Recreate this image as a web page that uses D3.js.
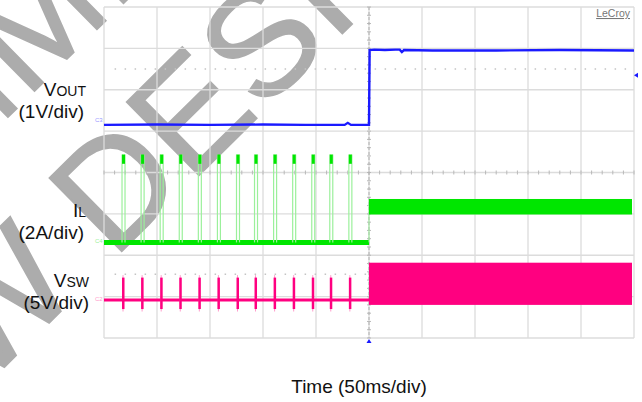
<!DOCTYPE html>
<html lang="en">
<head>
<meta charset="utf-8">
<script src="https://d3js.org/d3.v7.min.js"></script>
<style>
    body { margin: 0; background: #fff; }
    text { font-family: "Liberation Sans", Arial, sans-serif; }
</style>
</head>
<body>
<svg></svg>
<script>
    const width = 642;
    const height = 402;

    // 50 ms/div, trigger in the middle of the screen
    const timeDomain = [-250, 250];
    const divDomain = [-4, 4];

    // switching bursts before the converter starts (ms)
    const burstTimes = [-233, -215, -197, -179, -161, -143, -125, -108, -90, -72, -54, -37, -19];

    // VOUT trace, 1 V/div
    const voutTime  = [-250, -200, -150, -100, -60, -23, -20, -17, 0, 0.6, 5, 15, 25, 29, 31, 33, 60, 120, 180, 250];
    const voutValue = [-0.1, -0.09, -0.1, -0.09, -0.1, -0.1, -0.05, -0.1, -0.1, 1.71, 1.72, 1.71, 1.72, 1.72, 1.66, 1.71, 1.7, 1.7, 1.71, 1.7];

    // IL, 2 A/div
    const ilBase = 0;
    const ilPeak = [3.8, 4.25];
    const ilBand = [1.35, 2.1];

    // VSW, 5 V/div
    const vswBase = 0;
    const vswSpike = [-1.1, 2.7];
    const vswBand = [-0.6, 4.5];

    // channel ground markers (div from centre)
    const chNames = ['C3', 'C4', 'C2'];
    const chOffset = [1.25, -1.69, -3.08];
    const chScale = [1, 2, 5];
    const chColor = ['#1a1aff', '#00e600', '#ff0080'];
    const chLight = ['#9a9aff', '#9bf09b', '#ff9ccc'];

    const svg = d3.select('svg').attr('width', width).attr('height', height);

    const x = d3.scaleLinear().domain(timeDomain).range([104, 634]);
    const y = d3.scaleLinear().domain(divDomain).range([338, 7]);
    const yCh = (i, v) => y(chOffset[i] + v / chScale[i]);

    // watermark, under the graticule
    const wm = svg.append('g')
        .attr('fill', '#acacac').attr('stroke', '#acacac').attr('stroke-width', 1.5)
        .attr('font-size', 150);
    wm.append('text')
        .attr('transform', 'translate(113,260) rotate(-44.6)')
        .text('DESIGNS');
    wm.append('text')
        .attr('transform', 'translate(113,260) rotate(-44.6)')
        .attr('x', -42)
        .attr('text-anchor', 'end')
        .text('NEW');
    wm.append('text')
        .attr('transform', 'translate(-10,135) rotate(-44.6)')
        .attr('x', -508)
        .text('RECOMMENDED FOR');

    // graticule
    const grid = svg.append('g').attr('stroke', '#dcdcdc').attr('stroke-width', 1.3);
    grid.selectAll('line.v').data(x.ticks(10)).enter().append('line')
        .attr('x1', d => x(d)).attr('x2', d => x(d))
        .attr('y1', y(4)).attr('y2', y(-4));
    grid.selectAll('line.h').data(y.ticks(8)).enter().append('line')
        .attr('x1', x(-250)).attr('x2', x(250))
        .attr('y1', d => y(d)).attr('y2', d => y(d));

    // minor ticks on centre lines
    const minor = svg.append('g').attr('stroke', '#b8b8b8').attr('stroke-width', 1);
    minor.selectAll('line.mx').data(d3.range(-250, 251, 10)).enter().append('line')
        .attr('x1', d => x(d)).attr('x2', d => x(d))
        .attr('y1', y(0) - 2).attr('y2', y(0) + 2);
    minor.selectAll('line.my').data(d3.range(-4, 4.01, 0.2)).enter().append('line')
        .attr('x1', x(0) - 2).attr('x2', x(0) + 2)
        .attr('y1', d => y(d)).attr('y2', d => y(d));
    svg.append('line')
        .attr('x1', x(0)).attr('x2', x(0)).attr('y1', y(4)).attr('y2', y(-4))
        .attr('stroke', '#b0b0b0').attr('stroke-dasharray', '3 2');

    // dotted reference levels
    svg.selectAll('line.ref').data([2.5, -2.46]).enter().append('line')
        .attr('x1', x(-240)).attr('x2', x(248))
        .attr('y1', d => y(d)).attr('y2', d => y(d))
        .attr('stroke', '#c4c4c4').attr('stroke-width', 1.5)
        .attr('stroke-dasharray', '1.5 8.5');

    // VSW
    const vsw = svg.append('g');
    vsw.append('line')
        .attr('x1', x(-250)).attr('x2', x(0))
        .attr('y1', yCh(2, vswBase)).attr('y2', yCh(2, vswBase))
        .attr('stroke', chColor[2]).attr('stroke-width', 3);
    vsw.selectAll('line.thin').data(burstTimes).enter().append('line')
        .attr('x1', d => x(d) + 1).attr('x2', d => x(d) + 1)
        .attr('y1', yCh(2, vswSpike[0] - 0.3)).attr('y2', yCh(2, vswSpike[1] + 0.3))
        .attr('stroke', chLight[2]).attr('stroke-width', 1);
    vsw.selectAll('rect').data(burstTimes).enter().append('rect')
        .attr('x', d => x(d)).attr('width', 2.5)
        .attr('y', yCh(2, vswSpike[1])).attr('height', yCh(2, vswSpike[0]) - yCh(2, vswSpike[1]))
        .attr('fill', chColor[2]);
    vsw.append('rect')
        .attr('x', x(0)).attr('width', x(250) - x(0) - 2)
        .attr('y', yCh(2, vswBand[1])).attr('height', yCh(2, vswBand[0]) - yCh(2, vswBand[1]))
        .attr('fill', chColor[2]);

    // IL
    const il = svg.append('g');
    il.append('line')
        .attr('x1', x(-250)).attr('x2', x(0))
        .attr('y1', yCh(1, ilBase)).attr('y2', yCh(1, ilBase))
        .attr('stroke', chColor[1]).attr('stroke-width', 5);
    il.selectAll('line.up').data(burstTimes).enter().append('line')
        .attr('x1', d => x(d)).attr('x2', d => x(d))
        .attr('y1', yCh(1, ilBase)).attr('y2', yCh(1, ilPeak[1]))
        .attr('stroke', chLight[1]).attr('stroke-width', 1.2);
    il.selectAll('line.down').data(burstTimes).enter().append('line')
        .attr('x1', d => x(d) + 3).attr('x2', d => x(d) + 3)
        .attr('y1', yCh(1, ilBase)).attr('y2', yCh(1, ilPeak[1]))
        .attr('stroke', chLight[1]).attr('stroke-width', 1.2);
    il.selectAll('rect.pk').data(burstTimes).enter().append('rect')
        .attr('x', d => x(d)).attr('width', 3)
        .attr('y', yCh(1, ilPeak[1])).attr('height', yCh(1, ilPeak[0]) - yCh(1, ilPeak[1]))
        .attr('fill', chColor[1]);
    il.append('line')
        .attr('x1', x(0)).attr('x2', x(0))
        .attr('y1', yCh(1, ilBase)).attr('y2', yCh(1, ilBand[1]))
        .attr('stroke', chLight[1]).attr('stroke-width', 1);
    il.append('rect')
        .attr('x', x(0)).attr('width', x(250) - x(0) - 2)
        .attr('y', yCh(1, ilBand[1])).attr('height', yCh(1, ilBand[0]) - yCh(1, ilBand[1]))
        .attr('fill', chColor[1]);

    // VOUT
    const vout = d3.line()
        .x((d, i) => x(voutTime[i]))
        .y(d => yCh(0, d));
    svg.append('path')
        .attr('d', vout(voutValue))
        .attr('fill', 'none')
        .attr('stroke', chColor[0]).attr('stroke-width', 2.4);

    // channel markers on the left edge
    svg.selectAll('text.ch').data(chNames).enter().append('text')
        .attr('x', 95).attr('y', (d, i) => y(chOffset[i]) + 1)
        .attr('font-size', 6).attr('fill', (d, i) => chLight[i])
        .text(d => d);

    // trigger markers
    svg.append('path')
        .attr('d', `M${x(0)},${y(-4) + 1}l-2.5,4h5z`)
        .attr('fill', chColor[0]);
    svg.append('path')
        .attr('d', `M${x(250)},${yCh(0, 1.1)}l4,-2.5v5z`)
        .attr('fill', chColor[0]);

    svg.append('text')
        .attr('x', 630).attr('y', 17)
        .attr('text-anchor', 'end')
        .attr('font-size', 10.5).attr('fill', '#777')
        .attr('text-decoration', 'underline')
        .text('LeCroy');

    // channel labels
    const labels = svg.append('g').attr('font-size', 19).attr('fill', '#111').attr('text-anchor', 'end');
    const lab = (xp, yp, main, sub) => {
        const t = labels.append('text').attr('x', xp).attr('y', yp);
        t.append('tspan').text(main);
        if (sub) t.append('tspan').attr('font-size', 14).text(sub);
    };
    lab(86, 96, 'V', 'OUT');
    lab(84, 118, '(1V/div)');
    lab(86, 217, 'I', 'L');
    lab(84, 239, '(2A/div)');
    lab(89, 287, 'V', 'SW');
    lab(89, 309, '(5V/div)');

    svg.append('text')
        .attr('x', 359).attr('y', 393)
        .attr('text-anchor', 'middle')
        .attr('font-size', 19).attr('fill', '#111')
        .text('Time (50ms/div)');
</script>
</body>
</html>
